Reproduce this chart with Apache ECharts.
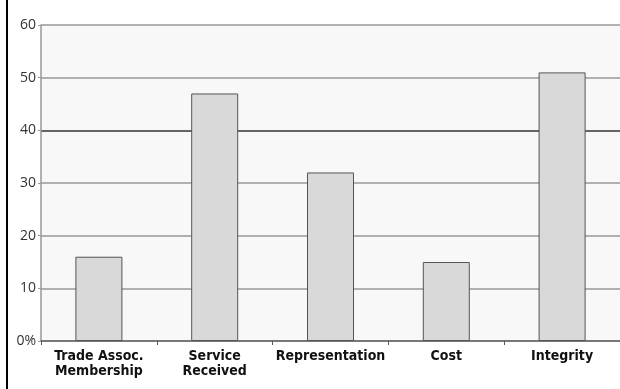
<!DOCTYPE html>
<html>
<head>
<meta charset="utf-8">
<script src="https://cdn.jsdelivr.net/npm/echarts@6/dist/echarts.min.js"></script>
<style>
  html, body { margin: 0; padding: 0; background: #fff; }
  #main { width: 620px; height: 389px; }
</style>
</head>
<body>
<div id="main"></div>
<script>
// data
var categories = ['Trade Assoc.\nMembership', 'Service\nReceived', 'Representation', 'Cost', 'Integrity'];
var values = [16, 47, 32, 15, 51];
var yTicks = { min: 0, max: 60, interval: 10 };

var myChart = echarts.init(document.getElementById('main'));
var option = {
  animation: false,
  grid: { left: 41, right: 0, top: 25, bottom: 48, show: true, backgroundColor: '#f8f8f8', borderWidth: 0 },
  graphic: [
    { type: 'rect', shape: { x: 6, y: 0, width: 2, height: 389 }, style: { fill: '#000' } }
  ],
  xAxis: {
    type: 'category',
    data: categories,
    axisLine: { lineStyle: { color: '#666', width: 1.5 } },
    axisTick: { show: true, length: 4, lineStyle: { color: '#555' } },
    axisLabel: {
      interval: 0,
      color: '#111',
      fontFamily: 'DejaVu Sans Condensed',
      fontWeight: 'bold',
      fontSize: 14,
      lineHeight: 15,
      margin: 8
    }
  },
  yAxis: {
    type: 'value',
    min: yTicks.min,
    max: yTicks.max,
    interval: yTicks.interval,
    axisLine: { show: true, lineStyle: { color: '#999', width: 1.5 } },
    axisTick: { show: true, length: 3, lineStyle: { color: '#999' } },
    axisLabel: {
      color: '#333',
      fontFamily: 'Open Sans',
      fontSize: 14,
      margin: 5,
      formatter: function (v) { return v === 0 ? '0%' : v; }
    },
    splitLine: {
      lineStyle: {
        width: 1.5,
        color: ['#999', '#999', '#999', '#999', '#333', '#999', '#999']
      }
    }
  },
  series: [{
    type: 'bar',
    data: values,
    barWidth: 47,
    itemStyle: { color: '#d9d9d9', borderColor: '#555', borderWidth: 1 }
  }]
};
option && myChart.setOption(option);
</script>
</body>
</html>
